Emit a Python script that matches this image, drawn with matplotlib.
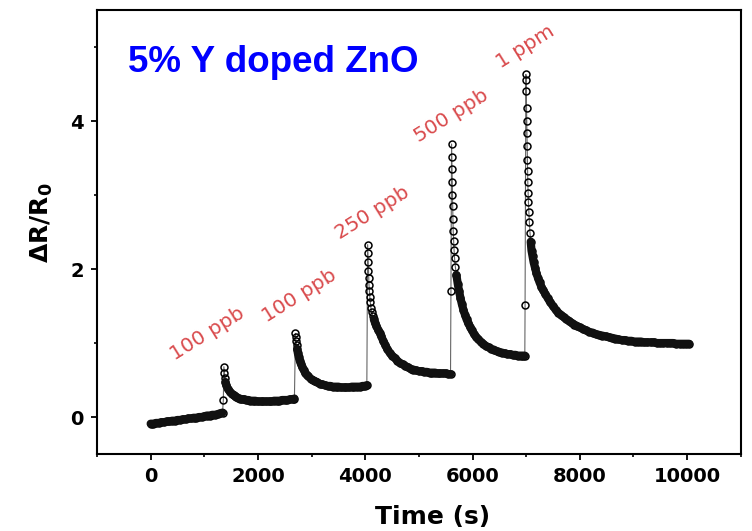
import numpy as np
import matplotlib
matplotlib.use('Agg')
import matplotlib.pyplot as plt
from matplotlib.ticker import MultipleLocator

# baseline before first exposure
t0 = [0, 50, 100, 150, 200, 250, 300, 350, 400, 450, 500, 550, 600, 650,
      700, 750, 800, 850, 900, 950, 1000, 1050, 1100, 1150, 1200, 1250, 1300, 1340]
y0 = [-0.09, -0.09, -0.08, -0.08, -0.07, -0.07, -0.06, -0.06, -0.05, -0.05, -0.04, -0.04, -0.03, -0.03,
      -0.02, -0.02, -0.01, -0.01, 0.0, 0.0, 0.01, 0.02, 0.02, 0.03, 0.03, 0.04, 0.05, 0.06]

# 100 ppb
t1 = [1355, 1365, 1375, 1385, 1395, 1410, 1440, 1480, 1520, 1545, 1570, 1600, 1630,
      1660, 1700, 1740, 1780, 1820, 1860, 1900, 1950, 2000, 2050, 2100, 2150, 2200,
      2250, 2300, 2350, 2400, 2450, 2500, 2550, 2600, 2650, 2680]
y1 = [0.23, 0.68, 0.60, 0.53, 0.47, 0.43, 0.38, 0.34, 0.31, 0.30, 0.28, 0.27, 0.26,
      0.25, 0.24, 0.24, 0.23, 0.23, 0.22, 0.22, 0.22, 0.21, 0.21, 0.21, 0.21, 0.21,
      0.21, 0.22, 0.22, 0.22, 0.23, 0.23, 0.23, 0.24, 0.24, 0.25]

# 100 ppb
t2 = [2700, 2705, 2710, 2720, 2730, 2745, 2760, 2780, 2800, 2825, 2850, 2880, 2910,
      2940, 2980, 3020, 3060, 3100, 3150, 3200, 3250, 3300, 3350, 3400, 3450, 3500,
      3550, 3600, 3650, 3700, 3750, 3800, 3850, 3900, 3950, 4000, 4030]
y2 = [1.13, 1.08, 1.03, 0.97, 0.92, 0.86, 0.81, 0.76, 0.72, 0.68, 0.64, 0.60, 0.57,
      0.55, 0.52, 0.50, 0.48, 0.47, 0.45, 0.44, 0.43, 0.42, 0.42, 0.41, 0.41, 0.41,
      0.40, 0.40, 0.40, 0.40, 0.41, 0.41, 0.41, 0.41, 0.42, 0.42, 0.43]

# 250 ppb
t3 = [4045, 4050, 4055, 4060, 4065, 4070, 4078, 4086, 4095, 4105, 4120, 4140, 4160,
      4185, 4210, 4240, 4270, 4300, 4335, 4370, 4410, 4455, 4500, 4550, 4600, 4650,
      4700, 4750, 4800, 4850, 4900, 4950, 5000, 5050, 5100, 5150, 5200, 5250, 5300,
      5350, 5400, 5450, 5500, 5550, 5590]
y3 = [2.33, 2.22, 2.10, 1.98, 1.88, 1.79, 1.70, 1.62, 1.55, 1.48, 1.42, 1.37, 1.32,
      1.27, 1.23, 1.18, 1.14, 1.09, 1.03, 0.98, 0.92, 0.87, 0.83, 0.80, 0.76, 0.73,
      0.71, 0.69, 0.67, 0.65, 0.64, 0.63, 0.62, 0.62, 0.61, 0.61, 0.60, 0.60, 0.60,
      0.59, 0.59, 0.59, 0.59, 0.58, 0.58]

# 500 ppb
t4 = [5598, 5610, 5614, 5618, 5622, 5626, 5630, 5635, 5640, 5648, 5656, 5665, 5680,
      5700, 5725, 5750, 5775, 5800, 5830, 5860, 5890, 5920, 5955, 5990, 6030, 6070,
      6110, 6150, 6200, 6250, 6300, 6350, 6400, 6450, 6500, 6550, 6600, 6650, 6700,
      6750, 6800, 6850, 6900, 6950, 6975]
y4 = [1.70, 3.69, 3.52, 3.35, 3.18, 3.00, 2.85, 2.68, 2.52, 2.38, 2.26, 2.15, 2.03,
      1.92, 1.80, 1.70, 1.61, 1.53, 1.45, 1.38, 1.32, 1.27, 1.22, 1.17, 1.12, 1.08,
      1.05, 1.02, 0.99, 0.96, 0.94, 0.92, 0.91, 0.89, 0.88, 0.87, 0.86, 0.85, 0.85,
      0.84, 0.84, 0.83, 0.83, 0.83, 0.83]

# 1 ppm
t5 = [6980, 6995, 6999, 7003, 7007, 7011, 7015, 7019, 7023, 7027, 7031, 7036, 7042,
      7050, 7060, 7072, 7085, 7100, 7120, 7140, 7165, 7190, 7220, 7250, 7285, 7320,
      7360, 7400, 7450, 7500, 7550, 7600, 7650, 7700, 7750, 7800, 7850, 7900, 7950,
      8000, 8060, 8120, 8180, 8240, 8300, 8360, 8420, 8480, 8540, 8600, 8660, 8720,
      8780, 8840, 8900, 8960, 9020, 9080, 9140, 9200, 9260, 9320, 9380, 9440, 9500,
      9560, 9620, 9680, 9740, 9800, 9860, 9920, 9980, 10040]
y5 = [1.52, 4.63, 4.56, 4.40, 4.18, 4.00, 3.84, 3.66, 3.48, 3.32, 3.17, 3.03, 2.91,
      2.77, 2.63, 2.49, 2.37, 2.25, 2.17, 2.09, 2.02, 1.95, 1.88, 1.82, 1.76, 1.71,
      1.66, 1.61, 1.55, 1.50, 1.45, 1.41, 1.38, 1.35, 1.32, 1.30, 1.27, 1.25, 1.23,
      1.21, 1.19, 1.17, 1.15, 1.14, 1.12, 1.11, 1.10, 1.09, 1.08, 1.07, 1.06, 1.05,
      1.04, 1.04, 1.03, 1.03, 1.02, 1.02, 1.02, 1.01, 1.01, 1.01, 1.01, 1.00, 1.00,
      1.00, 1.00, 1.00, 1.00, 0.99, 0.99, 0.99, 0.99, 0.99]

conc_labels = ['100 ppb', '100 ppb', '250 ppb', '500 ppb', '1 ppm']
label_t = [1056, 2780, 4140, 5600, 6980]
label_y = [1.12, 1.64, 2.76, 4.07, 5.0]

segs_t = [t0, t1, t2, t3, t4, t5]
segs_y = [y0, y1, y2, y3, y4, y5]
# where the slow part of each segment starts (the dense, overlapping circles)
dense_from = [0, 4, 4, 12, 13, 16]

t = np.concatenate(segs_t)
r = np.concatenate(segs_y)

plt.rcParams['font.family'] = 'DejaVu Sans'

fig = plt.figure(figsize=(7.52, 5.31), dpi=100)
ax = fig.add_axes([0.129, 0.145, 0.856, 0.836])

ax.plot(t, r, '-', color='#666666', lw=0.8, marker='o', ms=5, mfc='none',
        mec='black', mew=1.1)
# overlapping circles look like a solid band where points are dense
for st, sy, k in zip(segs_t, segs_y, dense_from):
    ax.plot(st[k:], sy[k:], '-', color='#111111', lw=5.9, solid_capstyle='round',
            solid_joinstyle='round')

for txt, xx, yy in zip(conc_labels, label_t, label_y):
    ax.text(xx, yy, txt, rotation=32, color='#d94a4c', fontsize=14.5,
            ha='center', va='center', rotation_mode='anchor')

ax.text(0.048, 0.883, '5% Y doped ZnO', transform=ax.transAxes, color='#0000ff',
        fontsize=26.5, fontweight='bold', family='Liberation Sans', va='center')

ax.set_xlim(-1000, 11000)
ax.set_ylim(-0.5, 5.5)
ax.xaxis.set_major_locator(MultipleLocator(2000))
ax.xaxis.set_minor_locator(MultipleLocator(1000))
ax.yaxis.set_major_locator(MultipleLocator(2))
ax.yaxis.set_minor_locator(MultipleLocator(1))
ax.tick_params(which='major', direction='out', length=4.5, width=1.3, labelsize=14, pad=5)
ax.tick_params(which='minor', direction='out', length=2.5, width=1.2)
for lab in ax.get_xticklabels() + ax.get_yticklabels():
    lab.set_fontweight('bold')
for sp in ax.spines.values():
    sp.set_linewidth(1.5)

ax.set_xlabel('Time (s)', fontsize=18, fontweight='bold')
ax.set_ylabel('\u0394R/R$_\\mathbf{0}$', fontsize=18, fontweight='bold')
ax.xaxis.set_label_coords(0.522, -0.115)
ax.yaxis.set_label_coords(-0.065, 0.52)

fig.savefig('out.png', dpi=100)
